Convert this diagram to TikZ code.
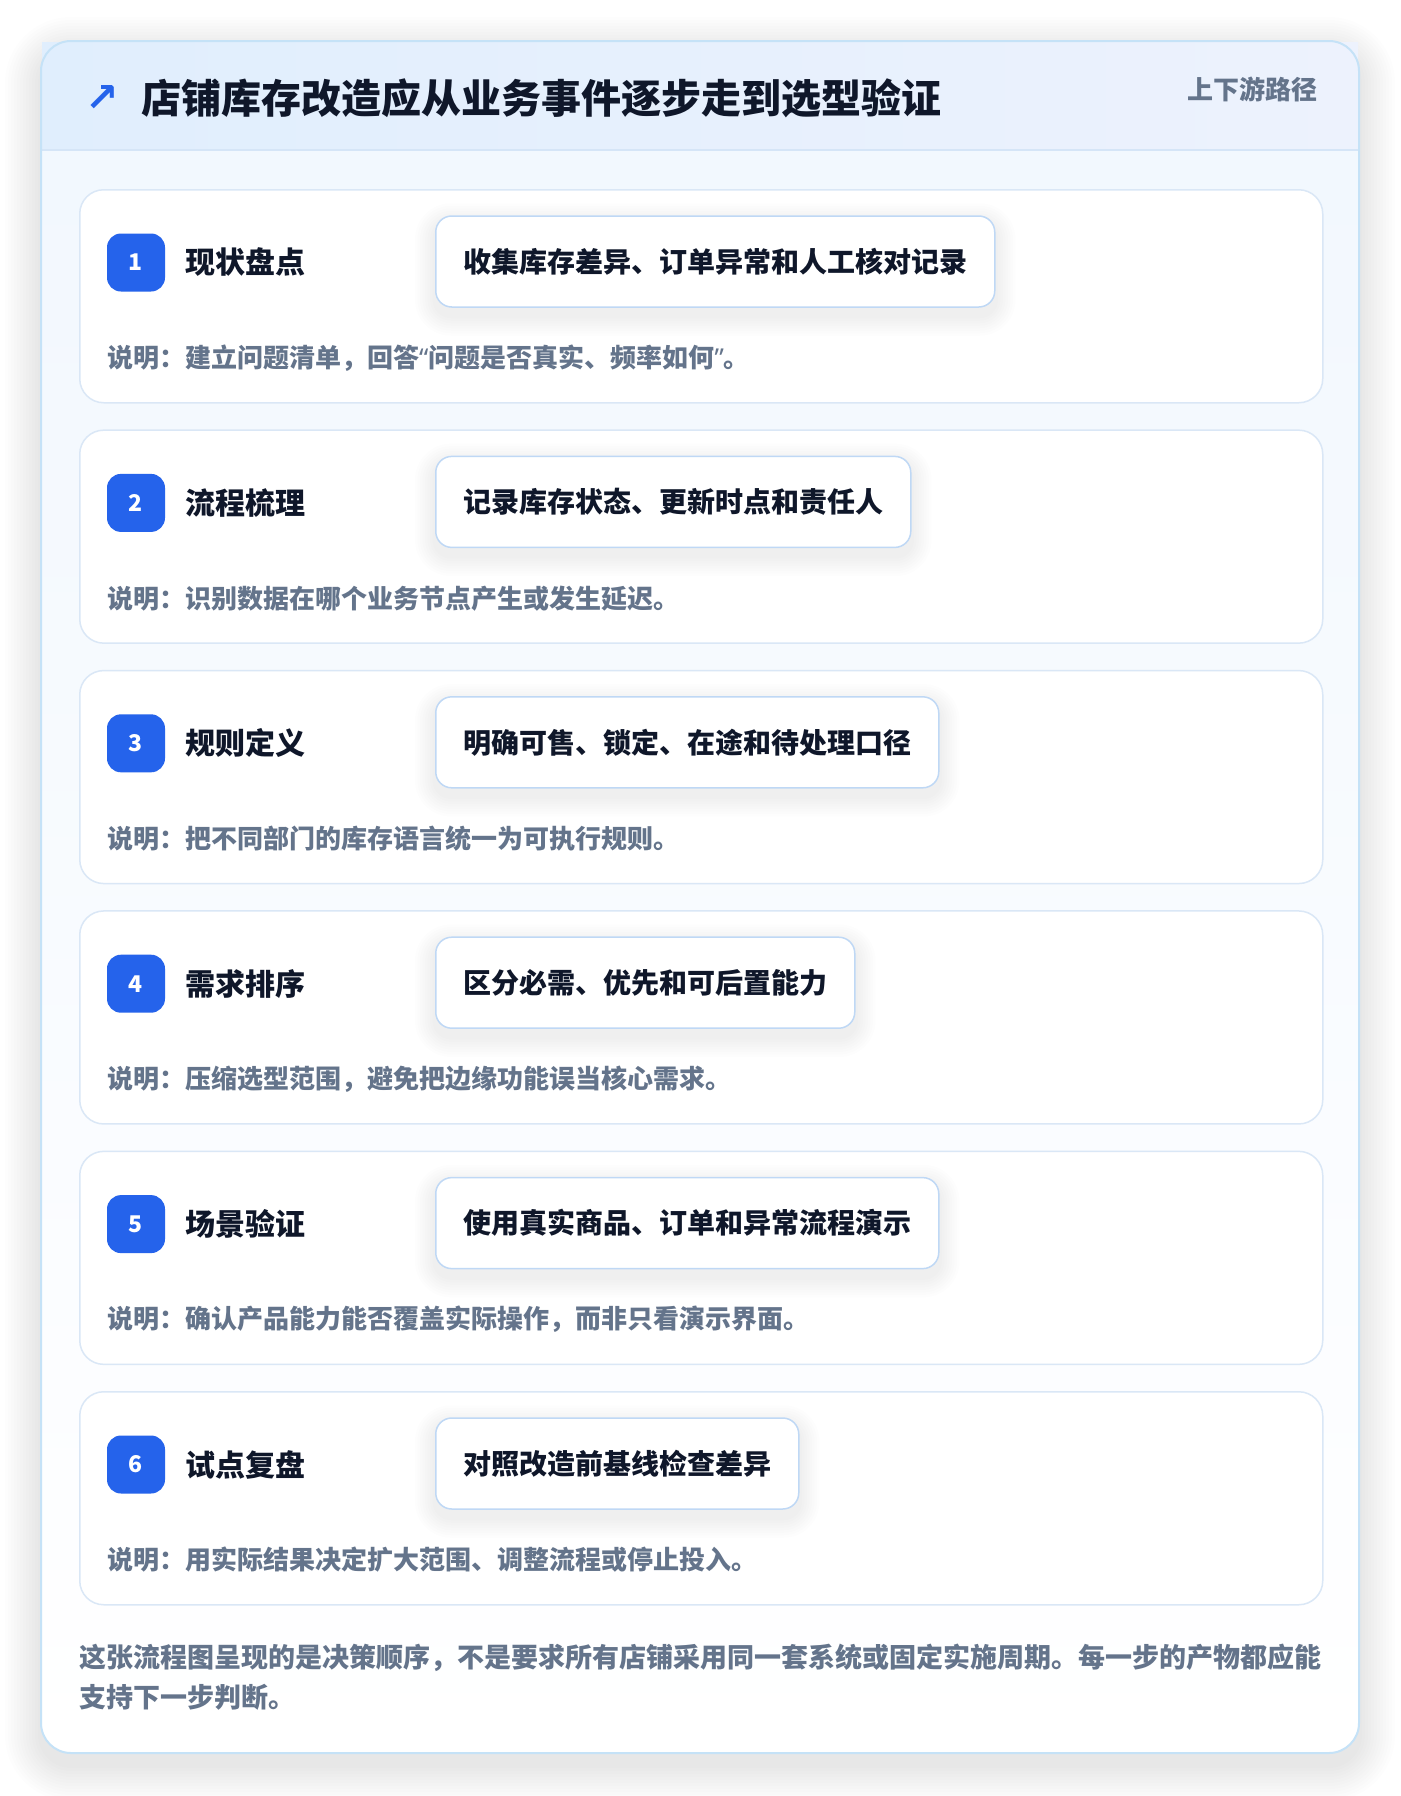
\documentclass[tikz,border=0pt]{standalone}
\usepackage{fontspec}
\setmainfont{Noto Sans CJK SC}
\newfontfamily\symfont{DejaVu Sans}
\newfontfamily\latinfont{Noto Sans}
\usetikzlibrary{calc,positioning}

\definecolor{cardline}{HTML}{C5E2F7}
\definecolor{headleft}{HTML}{E0EEFD}
\definecolor{headright}{HTML}{EDF2FD}
\definecolor{headrule}{HTML}{D5E5F7}
\definecolor{bodytop}{HTML}{F1F7FE}
\definecolor{stepline}{HTML}{DAE7F6}
\definecolor{actline}{HTML}{BFD8F5}
\definecolor{badgeblue}{HTML}{2563EB}
\definecolor{ink}{HTML}{0F172A}
\definecolor{muted}{HTML}{64748B}

\newcommand{\openq}{{\latinfont\bfseries “}}
\newcommand{\closeq}{{\latinfont\bfseries ”}}

\tikzset{
	stepcard/.style={draw=stepline, line width=1.5pt, fill=white, rounded corners=24pt, inner sep=0pt, minimum width=1243pt, minimum height=213pt, anchor=north west},
	badge/.style={fill=badgeblue, rounded corners=14pt, minimum width=58pt, minimum height=58pt, inner sep=0pt, text=white, font=\bfseries\fontsize{23}{23}\selectfont},
	stepname/.style={anchor=west, inner sep=0pt, text=ink, font=\bfseries\fontsize{30}{30}\selectfont},
	actbox/.style={draw=actline, line width=1.5pt, fill=white, rounded corners=16pt, minimum height=91pt, inner xsep=27.5pt, inner ysep=0pt, anchor=west, text=ink, font=\bfseries\fontsize{28}{28}\selectfont},
	stepnote/.style={anchor=west, inner sep=0pt, text=muted, font=\bfseries\fontsize{26}{26}\selectfont},
}

\begin{document}
\begin{tikzpicture}[x=1pt, y=-1pt]
	%%%%% START %%%%%
	\useasboundingbox (0, 0) rectangle (1400, 1796);
	\fill[white] (0, 0) rectangle (1400, 1796);
	
	% soft shadow under the main card
	\foreach \s in {1,...,12}
		\fill[black, opacity=0.006, rounded corners={30pt+3pt*\s}] (41-3*\s, 53-3*\s) rectangle (1359+3*\s, 1765+3*\s);
	
	% main card
	\fill[top color=bodytop, bottom color=white, rounded corners=30pt] (41, 41) rectangle (1359, 1753);
	\fill[left color=headleft, right color=headright] (42, 42) rectangle (1358, 150);
	\draw[headrule, line width=1.5pt] (42, 150) -- (1358, 150);
	\draw[cardline, line width=2pt, rounded corners=30pt] (41, 41) rectangle (1359, 1753);
	
	\node[text=badgeblue, inner sep=0pt, font=\symfont\bfseries\fontsize{40}{40}\selectfont] (arrow) at (102, 99) {↗};
	\node[anchor=west, inner sep=0pt, text=ink, font=\bfseries\fontsize{40}{40}\selectfont] (title) at (141, 98) {店铺库存改造应从业务事件逐步走到选型验证};
	\node[anchor=east, inner sep=0pt, text=muted, font=\bfseries\fontsize{26}{26}\selectfont] (tag) at (1318, 89) {上下游路径};
	
	% the six steps
	\foreach \n/\name/\act/\note in {
		1/现状盘点/收集库存差异、订单异常和人工核对记录/说明：建立问题清单，回答\openq 问题是否真实、频率如何\closeq 。,
		2/流程梳理/记录库存状态、更新时点和责任人/说明：识别数据在哪个业务节点产生或发生延迟。,
		3/规则定义/明确可售、锁定、在途和待处理口径/说明：把不同部门的库存语言统一为可执行规则。,
		4/需求排序/区分必需、优先和可后置能力/说明：压缩选型范围，避免把边缘功能误当核心需求。,
		5/场景验证/使用真实商品、订单和异常流程演示/说明：确认产品能力能否覆盖实际操作，而非只看演示界面。,
		6/试点复盘/对照改造前基线检查差异/说明：用实际结果决定扩大范围、调整流程或停止投入。}
	{
		\pgfmathsetmacro\ytop{189+240.4*(\n-1)}
		\node[stepcard] (card\n) at (79, \ytop) {};
		\node[badge] (badge\n) at (136, \ytop+73.5) {\n};
		\node[stepname, right=20pt of badge\n] (name\n) {\name};
		\node[actbox, draw=none, fill=none, text opacity=0] (ghost\n) at (435, \ytop+72.5) {\act};
		\foreach \s in {1,...,8}
			\fill[black, opacity=0.006, rounded corners={16pt+2.5pt*\s}] ($(ghost\n.north west)+(-2.5*\s, 8-2.5*\s)$) rectangle ($(ghost\n.south east)+(2.5*\s, 8+2.5*\s)$);
		\node[actbox] (act\n) at (435, \ytop+72.5) {\act};
		\node[stepnote] (note\n) at (107, \ytop+169) {\note};
	}
	
	\node[anchor=west, inner sep=0pt, align=left, text=muted, font=\bfseries\fontsize{27}{40}\selectfont] (footer) at (79, 1677) {这张流程图呈现的是决策顺序，不是要求所有店铺采用同一套系统或固定实施周期。每一步的产物都应能\\支持下一步判断。};
	%%%%% END %%%%%
\end{tikzpicture}
\end{document}
